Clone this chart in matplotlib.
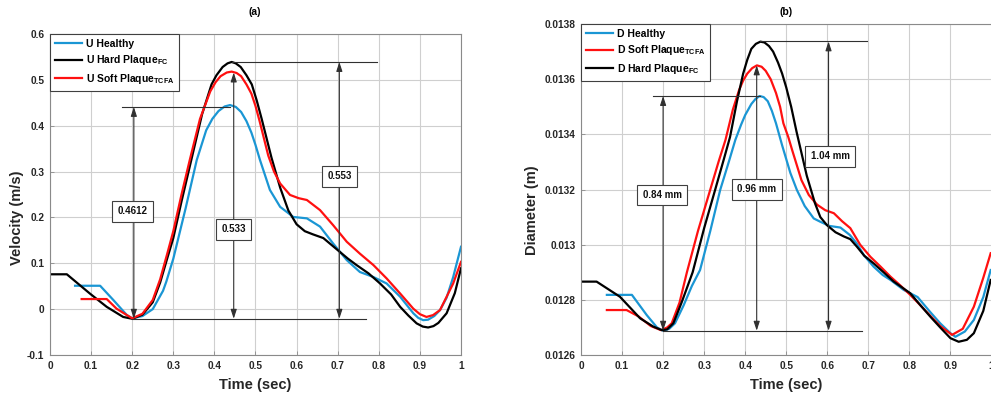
import matplotlib
matplotlib.use("Agg")
import matplotlib.pyplot as plt
from matplotlib.ticker import FuncFormatter

plt.rcParams['font.family'] = ['Liberation Sans', 'DejaVu Sans']
plt.rcParams['font.weight'] = 'bold'
plt.rcParams['mathtext.fontset'] = 'custom'
plt.rcParams['mathtext.rm'] = 'Liberation Sans:bold'
plt.rcParams['mathtext.bf'] = 'Liberation Sans:bold'
plt.rcParams['mathtext.default'] = 'rm'

# ---------------- Velocity (a) ----------------
u_healthy_t = [0.061, 0.122, 0.154, 0.187, 0.2, 0.225, 0.25, 0.275, 0.283, 0.3, 0.33, 0.357, 0.38, 0.395, 0.41,
               0.425, 0.438, 0.452, 0.465, 0.478, 0.49, 0.5, 0.511, 0.535, 0.56, 0.592, 0.625, 0.657, 0.689, 0.722,
               0.754, 0.787, 0.819, 0.852, 0.884, 0.896, 0.908, 0.92, 0.935, 0.949, 0.965, 0.981, 1.0]
u_healthy = [0.051, 0.051, 0.02, -0.013, -0.02, -0.015, 0.0, 0.04, 0.06, 0.11, 0.22, 0.325, 0.39, 0.415, 0.432,
             0.442, 0.445, 0.441, 0.43, 0.41, 0.385, 0.358, 0.325, 0.26, 0.223, 0.201, 0.198, 0.18, 0.143, 0.107,
             0.081, 0.07, 0.056, 0.027, -0.009, -0.019, -0.024, -0.023, -0.015, -0.002, 0.025, 0.07, 0.136]

u_hard_t = [0.0, 0.041, 0.097, 0.138, 0.178, 0.2, 0.225, 0.25, 0.268, 0.285, 0.3, 0.32, 0.345, 0.37, 0.393, 0.405,
            0.42, 0.432, 0.442, 0.452, 0.464, 0.478, 0.491, 0.503, 0.515, 0.539, 0.56, 0.58, 0.6, 0.62, 0.64,
            0.665, 0.685, 0.705, 0.725, 0.746, 0.775, 0.803, 0.83, 0.852, 0.872, 0.892, 0.907, 0.92, 0.933, 0.945,
            0.965, 0.985, 1.0]
u_hard = [0.076, 0.076, 0.034, 0.005, -0.017, -0.021, -0.012, 0.015, 0.058, 0.11, 0.155, 0.235, 0.33, 0.425, 0.49,
          0.51, 0.528, 0.536, 0.539, 0.536, 0.528, 0.51, 0.49, 0.455, 0.415, 0.33, 0.265, 0.215, 0.185, 0.17, 0.163,
          0.155, 0.14, 0.125, 0.11, 0.096, 0.078, 0.056, 0.032, 0.005, -0.014, -0.031, -0.038, -0.04, -0.037,
          -0.03, -0.009, 0.035, 0.089]

u_soft_t = [0.077, 0.138, 0.162, 0.187, 0.2, 0.225, 0.25, 0.268, 0.285, 0.3, 0.32, 0.34, 0.365, 0.39, 0.403, 0.415,
            0.43, 0.442, 0.454, 0.465, 0.478, 0.49, 0.5, 0.51, 0.531, 0.545, 0.56, 0.584, 0.605, 0.625, 0.657,
            0.689, 0.722, 0.754, 0.787, 0.819, 0.852, 0.884, 0.9, 0.916, 0.932, 0.949, 0.981, 1.0]
u_soft = [0.022, 0.022, 0.001, -0.013, -0.02, -0.01, 0.02, 0.065, 0.12, 0.17, 0.25, 0.325, 0.415, 0.475, 0.495,
          0.508, 0.516, 0.518, 0.515, 0.508, 0.49, 0.47, 0.443, 0.41, 0.335, 0.3, 0.274, 0.249, 0.242, 0.238,
          0.216, 0.183, 0.147, 0.121, 0.096, 0.067, 0.034, 0.001, -0.011, -0.017, -0.013, -0.002, 0.056, 0.103]

# ---------------- Diameter (b) ----------------
d_healthy_t = [0.063, 0.124, 0.16, 0.185, 0.2, 0.215, 0.229, 0.25, 0.27, 0.29, 0.315, 0.339, 0.36, 0.376, 0.39,
               0.4, 0.415, 0.425, 0.435, 0.445, 0.455, 0.465, 0.475, 0.49, 0.51, 0.526, 0.545, 0.567, 0.583, 0.605,
               0.632, 0.655, 0.672, 0.69, 0.713, 0.735, 0.754, 0.786, 0.82, 0.85, 0.875, 0.9, 0.912, 0.935, 0.957,
               0.98, 0.998]
d_healthy = [0.012818, 0.012818, 0.012745, 0.0127, 0.012688, 0.012695, 0.012715, 0.01278, 0.01285, 0.012908,
             0.01305, 0.013198, 0.0133, 0.01338, 0.013435, 0.01347, 0.01351, 0.013528, 0.013539, 0.013535,
             0.01352, 0.013485, 0.01344, 0.01336, 0.01326, 0.013198, 0.01314, 0.013095, 0.013083, 0.013068,
             0.013062, 0.013035, 0.013004, 0.01296, 0.01292, 0.01289, 0.012872, 0.012836, 0.01281, 0.012757,
             0.012715, 0.012679, 0.012666, 0.012685, 0.012727, 0.01281, 0.012908]

d_soft_t = [0.063, 0.111, 0.14, 0.17, 0.195, 0.21, 0.221, 0.24, 0.258, 0.285, 0.315, 0.335, 0.352, 0.37, 0.385,
            0.395, 0.405, 0.417, 0.4285, 0.44, 0.45, 0.462, 0.475, 0.485, 0.493, 0.505, 0.515, 0.537, 0.555,
            0.575, 0.595, 0.616, 0.636, 0.656, 0.68, 0.705, 0.73, 0.754, 0.778, 0.802, 0.827, 0.851, 0.875,
            0.904, 0.93, 0.957, 0.98, 0.998]
d_soft = [0.012763, 0.012763, 0.01274, 0.012705, 0.01269, 0.0127, 0.012715, 0.01279, 0.0129, 0.01305, 0.0132,
          0.0133, 0.01338, 0.01349, 0.01356, 0.013595, 0.01362, 0.01364, 0.01365, 0.013645, 0.01363, 0.0136,
          0.01355, 0.0135, 0.01344, 0.01339, 0.01334, 0.013234, 0.01318, 0.013145, 0.013125, 0.013114,
          0.013085, 0.01306, 0.013, 0.012956, 0.01292, 0.012884, 0.012852, 0.012818, 0.01278, 0.012742,
          0.012705, 0.012673, 0.012695, 0.012775, 0.01288, 0.012969]

d_hard_t = [0.0, 0.038, 0.095, 0.144, 0.176, 0.197, 0.21, 0.225, 0.245, 0.272, 0.3, 0.327, 0.348, 0.363, 0.38,
            0.395, 0.405, 0.415, 0.426, 0.437, 0.447, 0.458, 0.468, 0.48, 0.49, 0.5, 0.512, 0.525, 0.55, 0.57,
            0.583, 0.599, 0.62, 0.64, 0.656, 0.672, 0.69, 0.713, 0.737, 0.762, 0.782, 0.802, 0.827, 0.851, 0.875,
            0.9, 0.92, 0.94, 0.957, 0.98, 0.998]
d_hard = [0.012866, 0.012866, 0.012811, 0.012733, 0.012703, 0.01269, 0.012693, 0.012715, 0.01279, 0.0129,
          0.01306, 0.0132, 0.01331, 0.01339, 0.01352, 0.01362, 0.01367, 0.01371, 0.013728, 0.013736, 0.013733,
          0.01372, 0.0137, 0.01366, 0.01362, 0.01357, 0.0135, 0.01341, 0.01325, 0.01315, 0.0131, 0.013071,
          0.013045, 0.01303, 0.01302, 0.012993, 0.01296, 0.012932, 0.0129, 0.012866, 0.012845, 0.012824,
          0.01278, 0.012739, 0.0127, 0.012661, 0.012648, 0.012655, 0.012679, 0.01276, 0.012872]

x_ticks = [0, 0.1, 0.2, 0.3, 0.4, 0.5, 0.6, 0.7, 0.8, 0.9, 1]
u_ticks = [-0.1, 0, 0.1, 0.2, 0.3, 0.4, 0.5, 0.6]
d_ticks = [0.0126, 0.0128, 0.013, 0.0132, 0.0134, 0.0136, 0.0138]

BLUE = '#1a96d4'
RED = '#ff1010'
BLACK = '#000000'
ANN = '#303030'

W, H = 991, 404
fig = plt.figure(figsize=(W / 100, H / 100), dpi=100)

def px_axes(l, r, t, b):
    return fig.add_axes([l / W, 1 - b / H, (r - l) / W, (b - t) / H])

axA = px_axes(50, 461, 34, 355)
axB = px_axes(581, 991.5, 24, 355)

def style(ax, yt, ylim):
    ax.set_xlim(0, 1)
    ax.set_ylim(*ylim)
    ax.set_xticks(x_ticks)
    ax.set_yticks(yt)
    ax.xaxis.set_major_formatter(FuncFormatter(lambda v, p: '%g' % v))
    ax.yaxis.set_major_formatter(FuncFormatter(lambda v, p: '%g' % round(v, 6)))
    ax.grid(True, color='#cfcfcf', lw=0.8)
    ax.set_axisbelow(True)
    for s in ax.spines.values():
        s.set_color('#8a8a8a')
        s.set_linewidth(0.8)
    ax.tick_params(direction='in', length=3, width=0.6, color='#8a8a8a',
                   labelsize=7.3, labelcolor='#262626', pad=4)
    for lab in ax.get_xticklabels() + ax.get_yticklabels():
        lab.set_fontweight('bold')

style(axA, u_ticks, (-0.1, 0.6))
style(axB, d_ticks, (0.0126, 0.0138))

lw = 1.6
axA.plot(u_healthy_t, u_healthy, color=BLUE, lw=lw, label='U Healthy', solid_joinstyle='round')
axA.plot(u_hard_t, u_hard, color=BLACK, lw=lw, label=r'U Hard Plaque$_{FC}$', solid_joinstyle='round')
axA.plot(u_soft_t, u_soft, color=RED, lw=lw, label=r'U Soft Plaque$_{TCFA}$', solid_joinstyle='round')

axB.plot(d_healthy_t, d_healthy, color=BLUE, lw=lw, label='D Healthy', solid_joinstyle='round')
axB.plot(d_soft_t, d_soft, color=RED, lw=lw, label=r'D Soft Plaque$_{TCFA}$', solid_joinstyle='round')
axB.plot(d_hard_t, d_hard, color=BLACK, lw=lw, label=r'D Hard Plaque$_{FC}$', solid_joinstyle='round')

for ax in (axA, axB):
    leg = ax.legend(loc='upper left', borderaxespad=0, fancybox=False, framealpha=1,
                    edgecolor='#404040', prop={'size': 7.5, 'weight': 'bold'},
                    handlelength=2.6, handletextpad=0.4, labelspacing=0.45, borderpad=0.45)
    leg.get_frame().set_linewidth(0.8)

def hline(ax, x0, x1, y):
    ax.plot([x0, x1], [y, y], color=ANN, lw=0.8, zorder=4)

def darrow(ax, x, y0, y1):
    ax.annotate('', xy=(x, y1), xytext=(x, y0),
                arrowprops=dict(arrowstyle='<|-|>,head_length=0.55,head_width=0.18',
                                color=ANN, lw=0.8, shrinkA=0, shrinkB=0), zorder=4)

def label(ax, x, y, s):
    ax.text(x, y, s, ha='center', va='center', fontsize=7, fontweight='bold', color='#111111', zorder=6,
            bbox=dict(boxstyle='square,pad=0.55', fc='white', ec='#404040', lw=0.8))

# annotations (a)
hline(axA, 0.174, 0.438, 0.441)
darrow(axA, 0.204, 0.441, -0.021)
label(axA, 0.2, 0.213, '0.4612')
hline(axA, 0.442, 0.795, 0.539)
darrow(axA, 0.704, 0.539, -0.021)
label(axA, 0.705, 0.29, '0.553')
darrow(axA, 0.447, 0.516, -0.021)
label(axA, 0.447, 0.174, '0.533')
hline(axA, 0.2, 0.77, -0.021)

# annotations (b)
hline(axB, 0.176, 0.437, 0.013539)
darrow(axB, 0.2, 0.013539, 0.012688)
label(axB, 0.198, 0.01318, '0.84 mm')
hline(axB, 0.437, 0.697, 0.013737)
darrow(axB, 0.603, 0.013737, 0.012688)
label(axB, 0.607, 0.01332, '1.04 mm')
darrow(axB, 0.428, 0.01365, 0.012688)
label(axB, 0.4285, 0.0132, '0.96 mm')
hline(axB, 0.2, 0.685, 0.012688)

# titles and axis labels
fig.text(255 / W, 1 - 12 / H, '(a)', ha='center', va='center', fontsize=7.5, fontweight='bold')
fig.text(786 / W, 1 - 12 / H, '(b)', ha='center', va='center', fontsize=7.5, fontweight='bold')
fig.text(255 / W, 1 - 385 / H, 'Time (sec)', ha='center', va='center', fontsize=10.5, fontweight='bold', color='#262626')
fig.text(786 / W, 1 - 385 / H, 'Time (sec)', ha='center', va='center', fontsize=10.5, fontweight='bold', color='#262626')
fig.text(17 / W, 1 - 218 / H, 'Velocity (m/s)', ha='center', va='center', rotation=90, fontsize=10.5,
         fontweight='bold', color='#262626')
fig.text(532 / W, 1 - 210 / H, 'Diameter (m)', ha='center', va='center', rotation=90, fontsize=10.5,
         fontweight='bold', color='#262626')

fig.savefig('out.png', dpi=100)
